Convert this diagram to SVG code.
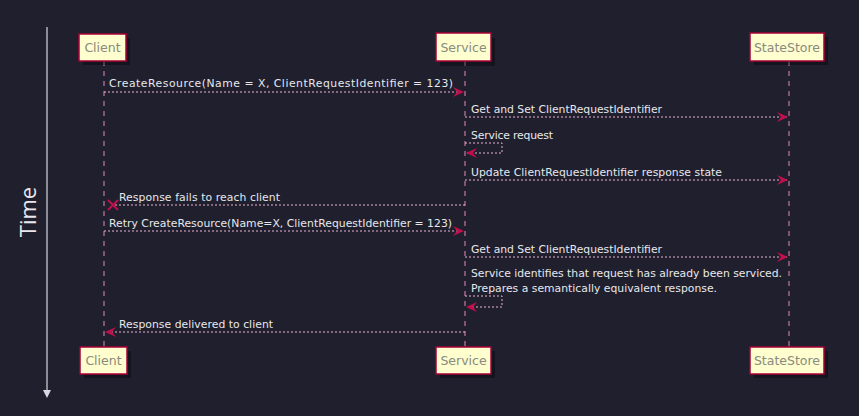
<svg xmlns="http://www.w3.org/2000/svg" width="859" height="416" viewBox="0 0 859 416">
<defs>
<style>
.bg{fill:#1f1f2e}
.box{fill:#fefece;stroke:#a80036;stroke-width:1.5}
.shadow{fill:#000;opacity:0.35}
.pname{font-family:"DejaVu Sans",sans-serif;font-size:12.5px;fill:#8a8a80;text-anchor:middle}
.life{stroke:#e48bb5;stroke-width:1;stroke-dasharray:5,5;fill:none}
.msg{stroke:#eab4cf;stroke-width:1;stroke-dasharray:2,2;fill:none}
.lbl{font-family:"DejaVu Sans",sans-serif;font-size:10.8px;fill:#e8e8ec}
.axis{stroke:#d8d8e0;stroke-width:1.2;fill:none}
</style>
<marker id="ah" viewBox="0 0 12 10" refX="11" refY="5" markerWidth="12" markerHeight="10" markerUnits="userSpaceOnUse" orient="auto">
<path d="M0,0 L11,5 L0,10 L4,5 Z" fill="#c0104c"/>
</marker>
</defs>
<rect class="bg" x="0" y="0" width="859" height="416"/>
<g id="time-axis">
<line class="axis" x1="47" y1="27" x2="47" y2="392"/>
<path d="M43,390 L51,390 L47,398 Z" fill="#d8d8e0"/>
<text x="36" y="212" transform="rotate(-90 36 212)" font-family="'Open Sans','DejaVu Sans',sans-serif" font-size="22" fill="#e8e8ec" text-anchor="middle">Time</text>
</g>
<g id="lifelines">
<line class="life" x1="104" y1="61" x2="104" y2="347"/>
<line class="life" x1="465" y1="61" x2="465" y2="347"/>
<line class="life" x1="789" y1="61" x2="789" y2="347"/>
</g>
<g id="Client">
<rect class="shadow" x="83" y="38" width="47" height="27"/>
<rect class="box" x="79" y="34" width="47" height="27"/>
<text class="pname" x="102.5" y="52">Client</text>
</g>
<g id="Service">
<rect class="shadow" x="440" y="38" width="55" height="28"/>
<rect class="box" x="436" y="33" width="55" height="28"/>
<text class="pname" x="463.5" y="52">Service</text>
</g>
<g id="StateStore">
<rect class="shadow" x="754" y="37" width="74" height="28"/>
<rect class="box" x="750" y="33" width="74" height="28"/>
<text class="pname" x="787" y="52">StateStore</text>
</g>
<g id="Client-bottom">
<rect class="shadow" x="84" y="351" width="47" height="27"/>
<rect class="box" x="80" y="347" width="47" height="27"/>
<text class="pname" x="103.5" y="365">Client</text>
</g>
<g id="Service-bottom">
<rect class="shadow" x="440" y="351" width="55" height="27"/>
<rect class="box" x="436" y="347" width="55" height="27"/>
<text class="pname" x="463.5" y="365">Service</text>
</g>
<g id="StateStore-bottom">
<rect class="shadow" x="754" y="351" width="74" height="27"/>
<rect class="box" x="750" y="347" width="74" height="27"/>
<text class="pname" x="787" y="365">StateStore</text>
</g>
<g id="connectors">
<line class="msg" x1="104" y1="92" x2="464" y2="92" marker-end="url(#ah)"/>
<text class="lbl" x="109" y="87" textLength="344" lengthAdjust="spacing">CreateResource(Name = X, ClientRequestIdentifier = 123)</text>
<line class="msg" x1="465" y1="117" x2="788" y2="117" marker-end="url(#ah)"/>
<text class="lbl" x="471" y="113" textLength="191" lengthAdjust="spacing">Get and Set ClientRequestIdentifier</text>
<polyline class="msg" points="465,143 502,143 502,153 466,153" marker-end="url(#ah)"/>
<text class="lbl" x="471" y="139" textLength="82" lengthAdjust="spacing">Service request</text>
<line class="msg" x1="465" y1="180" x2="788" y2="180" marker-end="url(#ah)"/>
<text class="lbl" x="471" y="176" textLength="251" lengthAdjust="spacing">Update ClientRequestIdentifier response state</text>
<line class="msg" x1="465" y1="205" x2="113" y2="205"/>
<path d="M108,200 L118,210 M118,200 L108,210" stroke="#c0104c" stroke-width="2"/>
<text class="lbl" x="119" y="201" textLength="161" lengthAdjust="spacing">Response fails to reach client</text>
<line class="msg" x1="104" y1="231" x2="464" y2="231" marker-end="url(#ah)"/>
<text class="lbl" x="109" y="227" textLength="343" lengthAdjust="spacing">Retry CreateResource(Name=X, ClientRequestIdentifier = 123)</text>
<line class="msg" x1="465" y1="257" x2="788" y2="257" marker-end="url(#ah)"/>
<text class="lbl" x="471" y="253" textLength="191" lengthAdjust="spacing">Get and Set ClientRequestIdentifier</text>
<text class="lbl" x="471" y="277" textLength="311" lengthAdjust="spacing">Service identifies that request has already been serviced.</text>
<text class="lbl" x="471" y="292" textLength="246" lengthAdjust="spacing">Prepares a semantically equivalent response.</text>
<polyline class="msg" points="465,296 502,296 502,307 466,307" marker-end="url(#ah)"/>
<line class="msg" x1="465" y1="332" x2="105" y2="332" marker-end="url(#ah)"/>
<text class="lbl" x="119" y="328" textLength="154" lengthAdjust="spacing">Response delivered to client</text>
</g>
</svg>
